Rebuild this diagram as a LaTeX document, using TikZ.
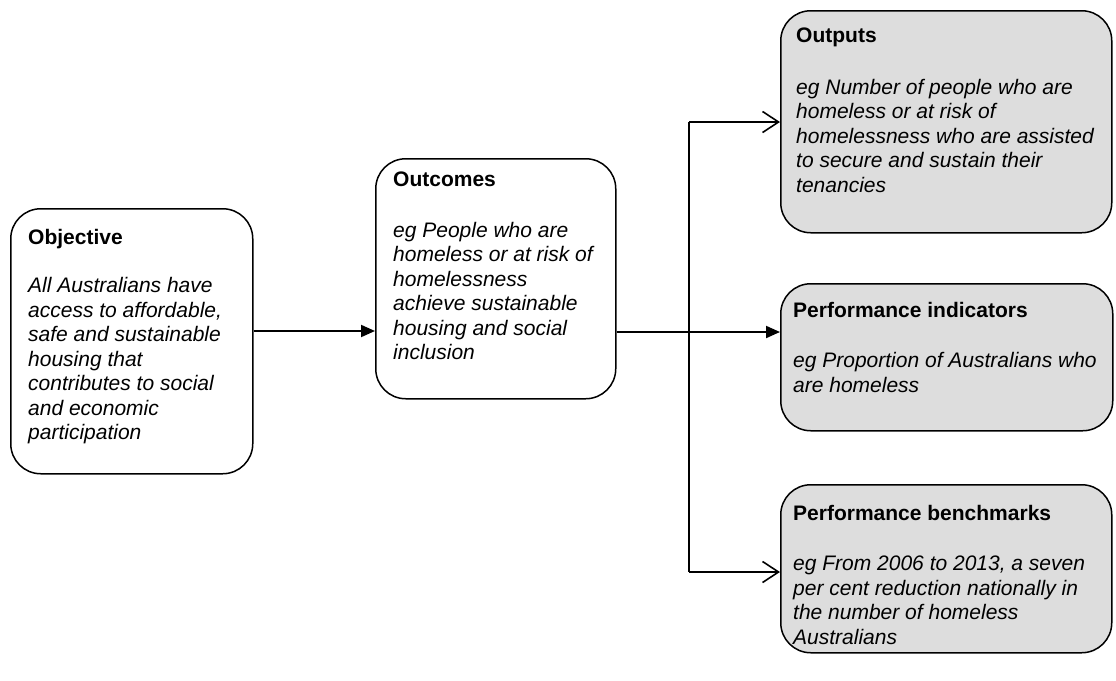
\documentclass[tikz,border=0pt]{standalone}
\usepackage{fontspec}
\setmainfont{Liberation Sans}
\usetikzlibrary{arrows.meta}
\definecolor{boxgray}{HTML}{DDDDDD}
\tikzset{
  box/.style={draw=black, line width=1.5pt, rounded corners=30pt, anchor=north west, inner sep=0pt},
  graybox/.style={box, fill=boxgray},
  txt/.style={anchor=north west, align=left, inner sep=0pt, font=\fontsize{21}{24.5}\selectfont},
  tri/.style={line width=2pt, -{Triangle[length=14pt,width=12pt]}},
  barb/.style={line width=2pt, -{Straight Barb[length=16pt,width=21pt,line width=1.6pt]}},
  conn/.style={line width=2pt}
}
\begin{document}
\begin{tikzpicture}[x=1pt,y=-1pt]
\useasboundingbox (0,0) rectangle (1116,680);
% boxes
\node[box, minimum width=242pt, minimum height=265pt] (objective) at (10,208) {};
\node[box, minimum width=240pt, minimum height=240pt] (outcomes) at (375,158) {};
\node[graybox, minimum width=331pt, minimum height=222pt] (outputs) at (780,10) {};
\node[graybox, minimum width=332pt, minimum height=147pt] (perfind) at (780,283) {};
\node[graybox, minimum width=331pt, minimum height=168pt] (bench) at (780,484) {};
% texts
\node[txt] (objtxt) at (28,229) {\textbf{Objective}\\[24pt]\textit{All Australians have}\\\textit{access to affordable,}\\\textit{safe and sustainable}\\\textit{housing that}\\\textit{contributes to social}\\\textit{and economic}\\\textit{participation}};
\node[txt] (outtxt) at (393,172) {\textbf{Outcomes}\\[26pt]\textit{eg People who are}\\\textit{homeless or at risk of}\\\textit{homelessness}\\\textit{achieve sustainable}\\\textit{housing and social}\\\textit{inclusion}};
\node[txt] (outputstxt) at (796,28) {\textbf{Outputs}\\[27pt]\textit{eg Number of people who are}\\\textit{homeless or at risk of}\\\textit{homelessness who are assisted}\\\textit{to secure and sustain their}\\\textit{tenancies}};
\node[txt] (perftxt) at (793,302) {\textbf{Performance indicators}\\[26pt]\textit{eg Proportion of Australians who}\\\textit{are homeless}};
\node[txt] (benchtxt) at (793,505) {\textbf{Performance benchmarks}\\[26pt]\textit{eg From 2006 to 2013, a seven}\\\textit{per cent reduction nationally in}\\\textit{the number of homeless}\\\textit{Australians}};
% connectors
\coordinate (ya) at (300,331);
\coordinate (jm) at (689,332);
\coordinate (jt) at (689,122);
\coordinate (jb) at (689,572);
\draw[tri] (objective.east |- ya) -- (outcomes.west |- ya);
\draw[tri] (outcomes.east |- jm) -- (perfind.west |- jm);
\draw[conn] (jt) -- (jb);
\draw[barb] (jt) -- (outputs.west |- jt);
\draw[barb] (jb) -- (bench.west |- jb);
\end{tikzpicture}
\end{document}
